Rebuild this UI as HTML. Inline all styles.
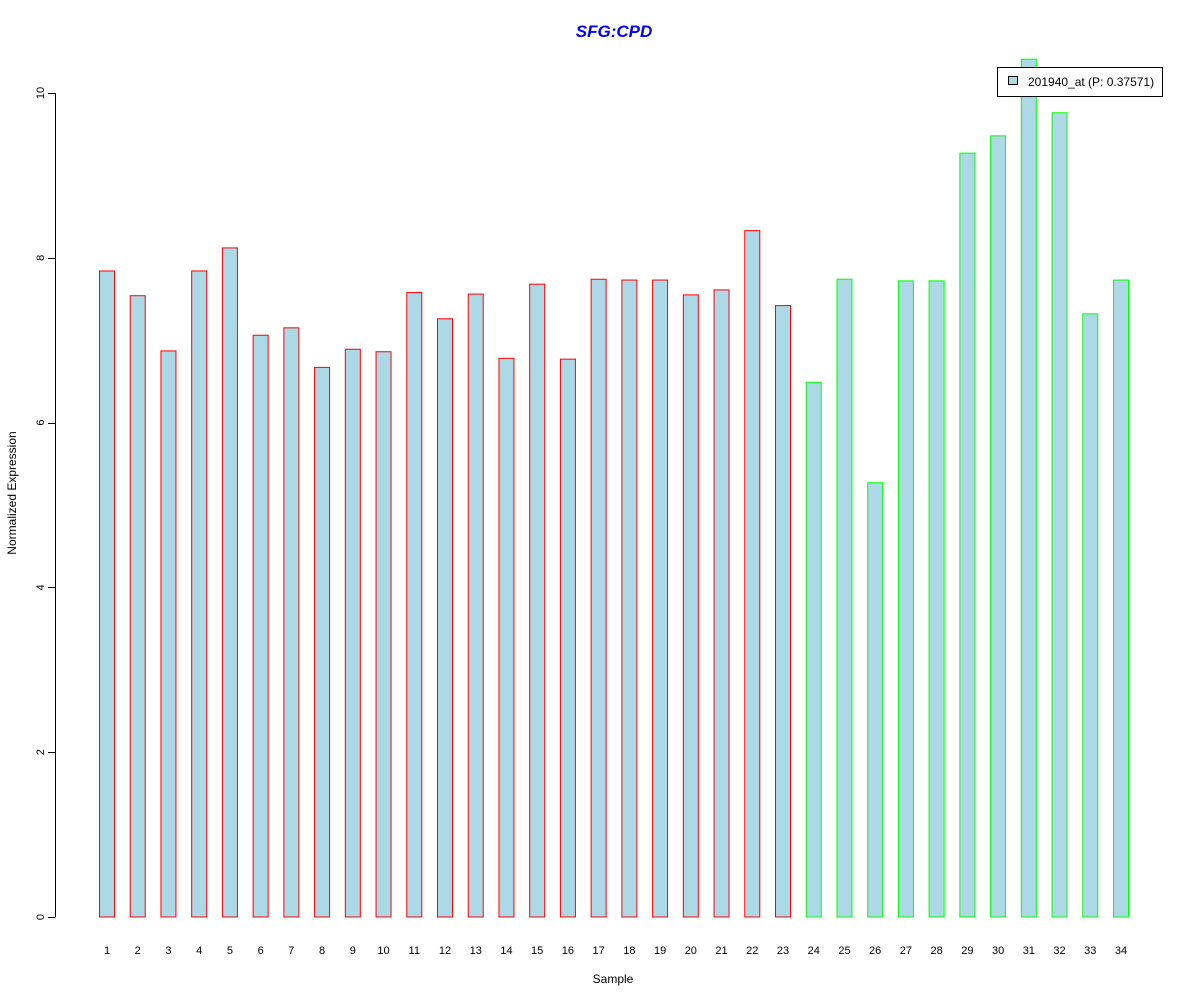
<!DOCTYPE html>
<html><head><meta charset="utf-8"><style>
body{margin:0;background:#fff;}
svg text{font-family:"Liberation Sans",Arial,sans-serif;}
</style></head><body>
<svg id="chart" width="1200" height="1000" xmlns="http://www.w3.org/2000/svg">
<rect width="1200" height="1000" fill="#fff"/>
<text x="614" y="37" text-anchor="middle" font-size="17" font-weight="bold" font-style="italic" fill="#0000ff">SFG:CPD</text>
<text x="613" y="983" text-anchor="middle" font-size="12">Sample</text>
<text transform="translate(16,493) rotate(-90)" text-anchor="middle" font-size="12">Normalized Expression</text>
<g id="bars"></g>
<g id="yaxis"></g>
<g id="xaxis"></g>
<g>
<rect x="997.5" y="67.5" width="165" height="29" fill="#fff" stroke="#000"/>
<rect x="1008.5" y="76.5" width="9" height="8" fill="#add8e6" stroke="#000"/>
<text x="1028" y="86" font-size="12">201940_at (P: 0.37571)</text>
</g>
</svg>
<script>
const categories = ["1","2","3","4","5","6","7","8","9","10","11","12","13","14","15","16","17","18","19","20","21","22","23","24","25","26","27","28","29","30","31","32","33","34"];
const values = [7.84,7.54,6.87,7.84,8.12,7.06,7.15,6.67,6.89,6.86,7.58,7.26,7.56,6.78,7.68,6.77,7.74,7.73,7.73,7.55,7.61,8.33,7.42,6.49,7.74,5.27,7.72,7.72,9.27,9.48,10.41,9.76,7.32,7.73];
const groups = ["a","a","a","a","a","a","a","a","a","a","a","a","a","a","a","a","a","a","a","a","a","a","a","b","b","b","b","b","b","b","b","b","b","b"];
const yTicks = [0,2,4,6,8,10];
const NS = "http://www.w3.org/2000/svg";
function yScale(v){ return 917 - v*82.4; }
function xScale(i){ return 107 + i*(1121-107)/33; }
const bars = document.getElementById('bars');
values.forEach(function(v,i){
  const r = document.createElementNS(NS,'rect');
  
  
  r.setAttribute('x', xScale(i)-7.5);
  r.setAttribute('y', yScale(v));
  r.setAttribute('width', 15);
  r.setAttribute('height', yScale(0)-yScale(v));
  r.setAttribute('fill','#add8e6');
  r.setAttribute('stroke', groups[i]==="a" ? '#ff0000' : '#00ff00');
  bars.appendChild(r);
  const t = document.createElementNS(NS,'text');
  
  
  t.setAttribute('x', xScale(i));
  t.setAttribute('y', 954);
  t.setAttribute('text-anchor','middle');
  t.setAttribute('font-size','11');
  t.textContent = categories[i];
  document.getElementById('xaxis').appendChild(t);
});
const ya = document.getElementById('yaxis');
const axl = document.createElementNS(NS,'line');


axl.setAttribute('x1',55.5); axl.setAttribute('x2',55.5);
axl.setAttribute('y1',yScale(0)); axl.setAttribute('y2',yScale(10));
axl.setAttribute('stroke','#000');
ya.appendChild(axl);
yTicks.forEach(function(v){
  const l = document.createElementNS(NS,'line');
  
  
  l.setAttribute('x1',48); l.setAttribute('x2',55.5);
  l.setAttribute('y1',Math.round(yScale(v))+0.5); l.setAttribute('y2',Math.round(yScale(v))+0.5);
  l.setAttribute('stroke','#000');
  ya.appendChild(l);
  const t = document.createElementNS(NS,'text');
  
  
  t.setAttribute('transform','translate(44,'+yScale(v)+') rotate(-90)');
  t.setAttribute('text-anchor','middle');
  t.setAttribute('font-size','11');
  t.textContent = v;
  ya.appendChild(t);
});
</script>
</body></html>
